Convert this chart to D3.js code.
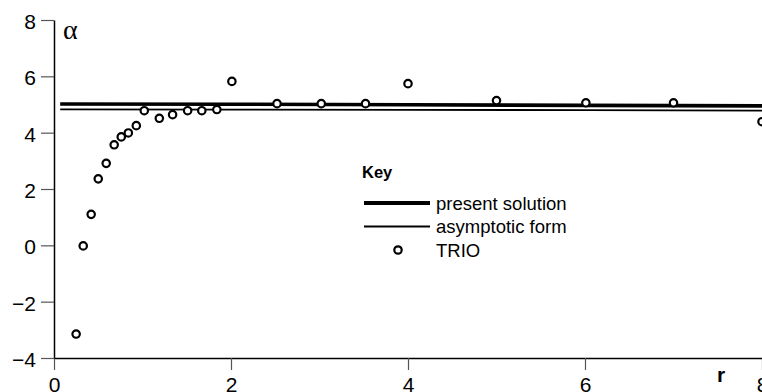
<!DOCTYPE html>
<html>
<head>
<meta charset="utf-8">
<script src="https://cdn.jsdelivr.net/npm/d3@7"></script>
<style>
  body { margin: 0; background: #fff; }
  svg { display: block; font-family: "Liberation Sans", Arial, sans-serif; }
  .axis .domain { stroke: #000; stroke-width: 1.5px; }
  .axis .tick line { stroke: #555; stroke-width: 1.2px; }
  .axis .tick text { font-size: 21px; fill: #000; }
</style>
</head>
<body>
<svg width="762" height="392"></svg>
<script>
// TRIO data points
var trioR = [0.25, 0.33, 0.42, 0.5, 0.59, 0.68, 0.76, 0.84, 0.93, 1.02, 1.19, 1.34, 1.51, 1.67, 1.84, 2.01, 2.52, 3.02, 3.52, 4.0, 5.0, 6.01, 7.0, 8.0];
var trioAlpha = [-3.15, -0.02, 1.1, 2.36, 2.91, 3.57, 3.85, 3.99, 4.25, 4.78, 4.51, 4.64, 4.78, 4.78, 4.82, 5.82, 5.03, 5.03, 5.03, 5.74, 5.14, 5.06, 5.06, 4.39];

// curves
var curveR = [0.07, 2, 4, 6, 8];
var presentAlpha = [5.02, 5.01, 4.99, 4.97, 4.95];
var asymptoticAlpha = [4.83, 4.82, 4.81, 4.8, 4.78];

var xTicks = [0, 2, 4, 6, 8];
var yTicks = [-4, -2, 0, 2, 4, 6, 8];

var svg = d3.select("svg"),
    margin = {top: 20, right: 0, bottom: 34, left: 54},
    width = svg.attr("width") - margin.left - margin.right,
    height = svg.attr("height") - margin.top - margin.bottom,
    g = svg.append("g").attr("transform", "translate(" + margin.left + "," + margin.top + ")");

var x = d3.scaleLinear().domain([0, 8]).range([0, width]),
    y = d3.scaleLinear().domain([-4, 8]).range([height, 0]);

var line = d3.line()
    .x(function(d) { return x(d[0]); })
    .y(function(d) { return y(d[1]); });

g.append("g")
    .attr("class", "axis axis--x")
    .attr("transform", "translate(0," + height + ")")
    .call(d3.axisBottom(x).tickValues(xTicks).tickSize(12).tickSizeOuter(0).tickPadding(7));

g.append("g")
    .attr("class", "axis axis--y")
    .call(d3.axisLeft(y).tickValues(yTicks).tickSize(13).tickSizeOuter(0).tickPadding(5))
    .selectAll(".tick text").attr("dy", "0.4em");

// axis titles
g.append("text")
    .attr("x", 9)
    .attr("y", 19)
    .style("font", "28px 'Liberation Serif', serif")
    .text("α");

g.append("text")
    .attr("x", 663)
    .attr("y", 362)
    .style("font", "bold 21px 'Liberation Sans', Arial, sans-serif")
    .text("r");

// solution lines
g.append("path")
    .datum(curveR.map(function(r, i) { return [r, presentAlpha[i]]; }))
    .attr("fill", "none")
    .attr("stroke", "#000")
    .attr("stroke-width", 3.6)
    .attr("d", line);

g.append("path")
    .datum(curveR.map(function(r, i) { return [r, asymptoticAlpha[i]]; }))
    .attr("fill", "none")
    .attr("stroke", "#000")
    .attr("stroke-width", 1.8)
    .attr("d", line);

g.selectAll(".trio")
    .data(trioR.map(function(r, i) { return [r, trioAlpha[i]]; }))
    .enter().append("circle")
    .attr("class", "trio")
    .attr("cx", function(d) { return x(d[0]); })
    .attr("cy", function(d) { return y(d[1]); })
    .attr("r", 3.7)
    .attr("fill", "#fff")
    .attr("stroke", "#000")
    .attr("stroke-width", 2.2);

// key
var key = svg.append("g").attr("transform", "translate(362,178)");
key.append("text")
    .style("font", "bold 16.5px 'Liberation Sans', Arial, sans-serif")
    .text("Key");

var keyItems = [
  {label: "present solution", type: "thick"},
  {label: "asymptotic form", type: "thin"},
  {label: "TRIO", type: "circle"}
];

var item = key.selectAll(".item")
    .data(keyItems)
    .enter().append("g")
    .attr("class", "item")
    .attr("transform", function(d, i) { return "translate(0," + (25 + i * 23.5) + ")"; });

item.filter(function(d) { return d.type != "circle"; })
    .append("line")
    .attr("x1", 2).attr("x2", 68)
    .attr("stroke", "#000")
    .attr("stroke-width", function(d) { return d.type == "thick" ? 4 : 1.8; });

item.filter(function(d) { return d.type == "circle"; })
    .append("circle")
    .attr("cx", 36)
    .attr("r", 3.7)
    .attr("fill", "#fff")
    .attr("stroke", "#000")
    .attr("stroke-width", 2.2);

item.append("text")
    .attr("x", 74)
    .attr("dy", "0.36em")
    .style("font", "18.5px 'Liberation Sans', Arial, sans-serif")
    .text(function(d) { return d.label; });
</script>
</body>
</html>
